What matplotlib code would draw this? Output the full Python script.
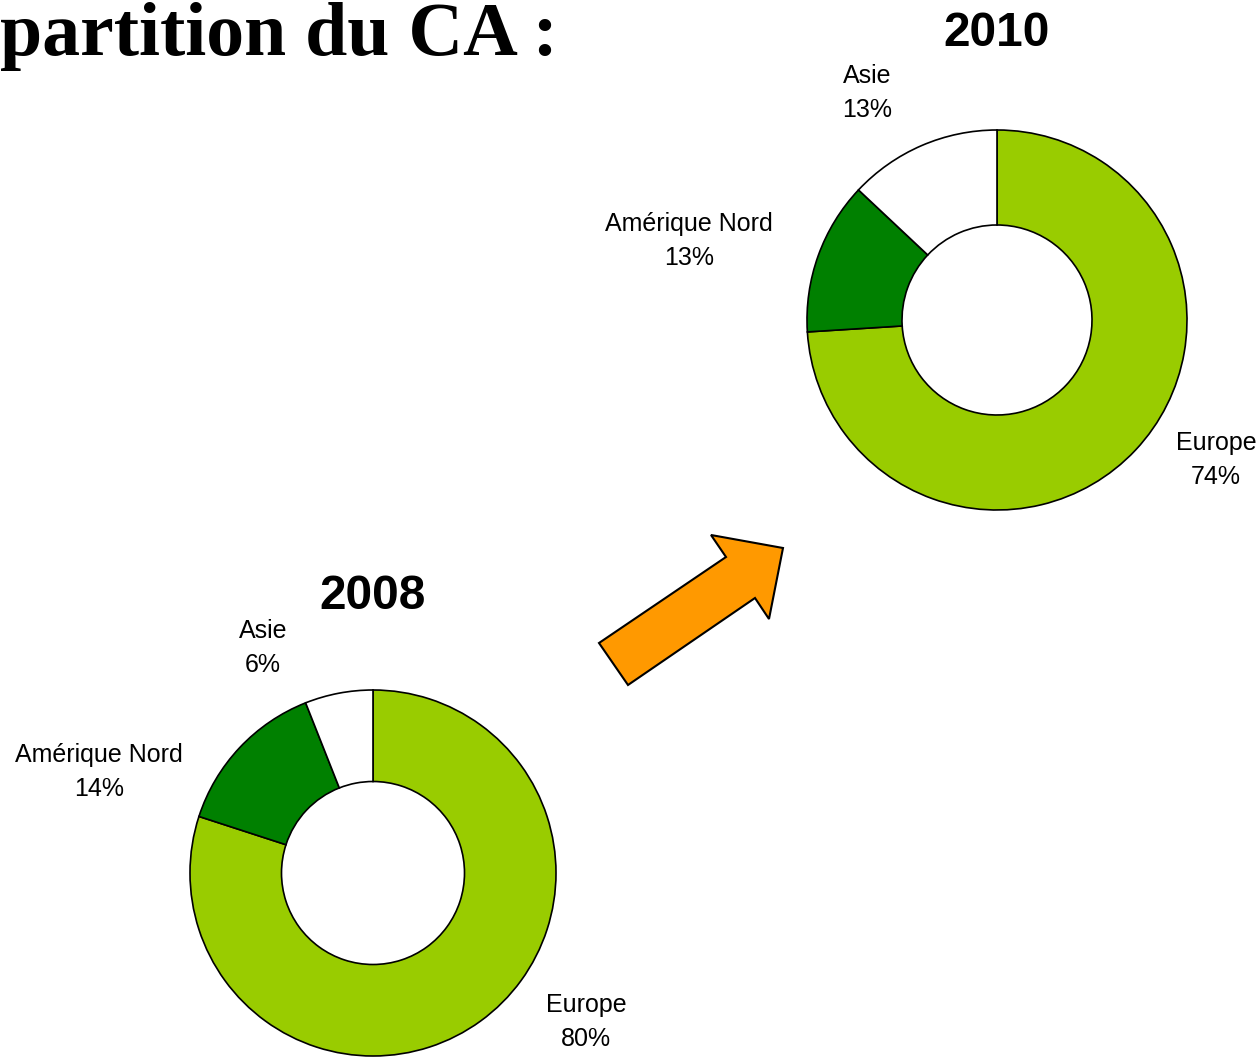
import matplotlib
matplotlib.use("Agg")
import matplotlib.pyplot as plt
from matplotlib.patches import Polygon

# ---- data ----
regions = ["Europe", "Amérique Nord", "Asie"]
values_2008 = [80, 14, 6]
values_2010 = [74, 13, 13]
years = ["2008", "2010"]
title_text = "partition du CA :"

colors = ["#99CC00", "#008000", "#FFFFFF"]

W, H = 1260, 1058
fig = plt.figure(figsize=(W / 100, H / 100), dpi=100)
fig.patch.set_facecolor("white")

def px_axes(cx, cy, r):
    return fig.add_axes([(cx - r) / W, (H - cy - r) / H, 2 * r / W, 2 * r / H])

# label offsets (in radius units) for each pie: Europe, Amérique Nord, Asie
label_pos = {
    "2008": [(1.164, -0.814), (-1.497, 0.552), (-0.60, 1.23)],
    "2010": [(1.153, -0.737), (-1.62, 0.416), (-0.684, 1.195)],
}
geom = {"2008": (373, 873, 183), "2010": (997, 320, 190)}
data = {"2008": values_2008, "2010": values_2010}

for yr in years:
    cx, cy, r = geom[yr]
    ax = px_axes(cx, cy, r)
    vals = data[yr]
    ax.pie(vals, colors=colors, startangle=90, counterclock=False,
           radius=1.0,
           wedgeprops=dict(width=0.5, edgecolor="black", linewidth=1.2))
    ax.set_xlim(-1, 1)
    ax.set_ylim(-1, 1)
    ax.set_aspect("equal")
    ax.axis("off")
    for (lx, ly), name, v in zip(label_pos[yr], regions, vals):
        ax.text(lx, ly, f"{name}\n{v}%", ha="center", va="center",
                fontsize=18, family="Liberation Sans", linespacing=1.52,
                clip_on=False)
    ax.text(0, 1.51, yr, ha="center", va="center", fontsize=34.5,
            fontweight="bold", family="Liberation Sans", clip_on=False)

# title (cut at left edge as in the original)
fig.text(0.0, 1 - 55 / H, title_text, ha="left", va="baseline",
         fontsize=54.5, fontweight="bold", family="Liberation Serif")

# orange block arrow
arrow_px = [(599, 643), (726, 557), (711, 535), (783, 548),
            (769, 619), (755, 598), (628, 685)]
arrow_fig = [(x / W, 1 - y / H) for x, y in arrow_px]
fig.patches.append(Polygon(arrow_fig, closed=True, transform=fig.transFigure,
                           facecolor="#FF9900", edgecolor="black",
                           linewidth=1.5, figure=fig))

fig.savefig("out.png", dpi=100, facecolor="white")
